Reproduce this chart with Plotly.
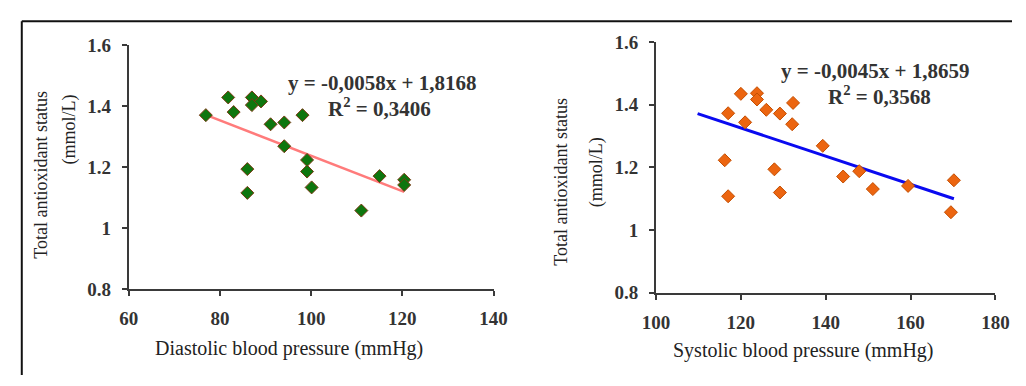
import plotly.graph_objects as go

# ---- data ----
dia_x = [76.9, 81.8, 83.0, 87.0, 87.0, 89.0, 91.1, 94.1, 94.1, 98.1,
         99.1, 99.1, 100.1, 86.0, 86.0, 111.0, 115.0, 120.4, 120.4]
dia_y = [1.370, 1.428, 1.380, 1.428, 1.403, 1.415, 1.340, 1.346, 1.268, 1.370,
         1.223, 1.185, 1.133, 1.193, 1.115, 1.057, 1.170, 1.158, 1.141]

sys_x = [117.0, 120.0, 121.0, 123.8, 123.8, 126.0, 129.2, 132.3, 132.1, 116.2,
         117.0, 127.9, 129.2, 139.3, 144.1, 147.9, 151.1, 159.4, 170.2, 169.5]
sys_y = [1.373, 1.435, 1.344, 1.437, 1.417, 1.384, 1.372, 1.406, 1.338, 1.223,
         1.108, 1.194, 1.120, 1.269, 1.171, 1.188, 1.131, 1.141, 1.159, 1.057]

dia_fit = {"slope": -0.0058, "intercept": 1.8168, "x": [76.9, 120.4]}
sys_fit = {"slope": -0.0045, "intercept": 1.8659, "x": [109.8, 170.2]}

dia_eq = ["y = -0,0058x + 1,8168", "R<sup>2</sup> = 0,3406"]
sys_eq = ["y = -0,0045x + 1,8659", "R<sup>2</sup> = 0,3568"]

y_title = ["Total antioxidant status", "(mmol/L)"]
dia_title = "Diastolic blood pressure (mmHg)"
sys_title = "Systolic blood pressure (mmHg)"

W, H = 1026, 386
def px(x): return x / W
def py(y): return 1 - y / H

SERIF = "Liberation Serif, Times New Roman, serif"
AXC = "#3a3a3a"

fig = go.Figure()

fig.add_trace(go.Scatter(
    x=dia_fit["x"], y=[dia_fit["slope"] * v + dia_fit["intercept"] for v in dia_fit["x"]],
    mode="lines", line=dict(color="#FF7B7B", width=2.5), xaxis="x", yaxis="y", showlegend=False))
fig.add_trace(go.Scatter(
    x=dia_x, y=dia_y, mode="markers",
    marker=dict(symbol="diamond", size=10, color="#0E760E", line=dict(color="#7A3A12", width=1)),
    xaxis="x", yaxis="y", showlegend=False))

fig.add_trace(go.Scatter(
    x=sys_fit["x"], y=[sys_fit["slope"] * v + sys_fit["intercept"] for v in sys_fit["x"]],
    mode="lines", line=dict(color="#0A0AF0", width=3), xaxis="x2", yaxis="y2", showlegend=False))
fig.add_trace(go.Scatter(
    x=sys_x, y=sys_y, mode="markers",
    marker=dict(symbol="diamond", size=10, color="#EC6510", line=dict(color="#C44E00", width=1)),
    xaxis="x2", yaxis="y2", showlegend=False))

tickfont = dict(family=SERIF, size=19, color="#333333", weight="bold")
common = dict(showgrid=False, zeroline=False, showline=True, linecolor=AXC, linewidth=2,
              ticks="outside", ticklen=5, tickwidth=1.5, tickcolor=AXC, tickfont=tickfont)

fig.update_layout(
    width=W, height=H, margin=dict(l=0, r=0, t=0, b=0),
    paper_bgcolor="white", plot_bgcolor="white",
    xaxis=dict(domain=[px(118), px(493)], range=[60, 140], dtick=20, anchor="y",
               ticklabelstandoff=6, **common),
    yaxis=dict(domain=[py(295), py(37)], range=[0.8, 1.6], dtick=0.2, anchor="x",
               ticklabelstandoff=7, **common),
    xaxis2=dict(domain=[px(660), px(1009)], range=[100, 180], dtick=20, anchor="y2",
                ticklabelstandoff=6, **common),
    yaxis2=dict(domain=[py(299), py(34)], range=[0.8, 1.6], dtick=0.2, anchor="x2",
                ticklabelstandoff=7, **common),
)

ann = []
eqfont = dict(family=SERIF, size=21, color="#333333", weight="bold")
for (txt, xc, yc) in [(dia_eq[0], 378, 77), (dia_eq[1], 376, 103),
                      (sys_eq[0], 885, 65), (sys_eq[1], 890, 90)]:
    ann.append(dict(text=txt, x=px(xc), y=py(yc), xref="paper", yref="paper",
                    showarrow=False, xanchor="center", yanchor="middle", font=eqfont))
tfont = dict(family=SERIF, size=18, color="#222222")
for (txt, xc, yc) in [(y_title[0], 27, 174), (y_title[1], 57, 126),
                      (y_title[0], 562, 182), (y_title[1], 599, 172)]:
    ann.append(dict(text=txt, x=px(xc), y=py(yc), xref="paper", yref="paper", textangle=-90,
                    showarrow=False, xanchor="center", yanchor="middle", font=tfont))
xfont = dict(family=SERIF, size=20, color="#222222")
for (txt, xc, yc) in [(dia_title, 283, 358), (sys_title, 812, 360)]:
    ann.append(dict(text=txt, x=px(xc), y=py(yc), xref="paper", yref="paper",
                    showarrow=False, xanchor="center", yanchor="middle", font=xfont))
fig.update_layout(annotations=ann)

fig.update_layout(shapes=[
    dict(type="line", xref="paper", yref="paper", x0=px(8), x1=1.0, y0=py(12), y1=py(12),
         line=dict(color="#111111", width=2)),
    dict(type="line", xref="paper", yref="paper", x0=px(8), x1=px(8), y0=py(12), y1=0.0,
         line=dict(color="#111111", width=2)),
])

fig.write_html("out.html")
